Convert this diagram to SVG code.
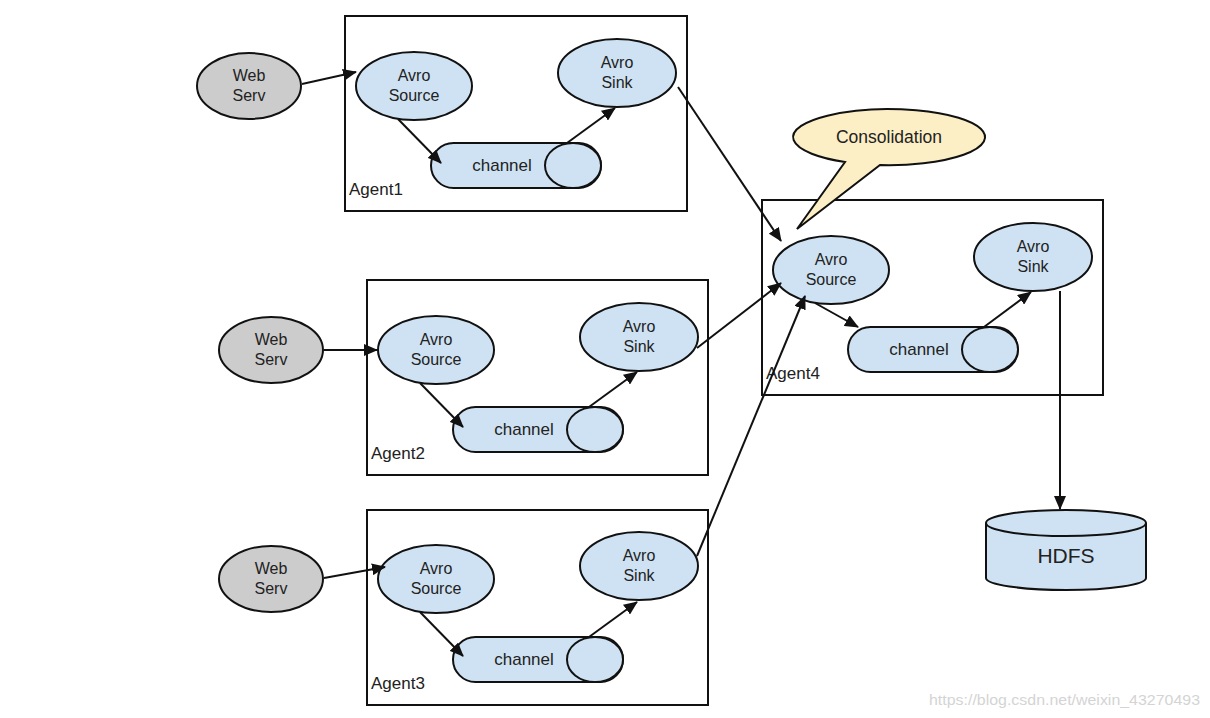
<svg xmlns="http://www.w3.org/2000/svg" width="1210" height="718" viewBox="0 0 1210 718">
<defs>
<style>
.box{fill:none;stroke:#111;stroke-width:2}
.web{fill:#cccccc;stroke:#111;stroke-width:2}
.blue{fill:#cfe2f3;stroke:#111;stroke-width:2}
.bub{fill:#fdefc5;stroke:#111;stroke-width:2}
.t{font-family:"Liberation Sans",Arial,sans-serif;font-size:16px;fill:#222;text-anchor:middle}
.ch{font-family:"Liberation Sans",Arial,sans-serif;font-size:17px;fill:#222;text-anchor:middle}
.lbl{font-family:"Liberation Sans",Arial,sans-serif;font-size:17px;fill:#222}
.big{font-family:"Liberation Sans",Arial,sans-serif;font-size:21px;fill:#222;text-anchor:middle}
.wm{font-family:"Liberation Sans",Arial,sans-serif;font-size:15px;fill:#d4d4d4}
.c{fill:none;stroke:#111;stroke-width:2;marker-end:url(#ah)}
</style>
<marker id="ah" markerUnits="userSpaceOnUse" markerWidth="14" markerHeight="12" refX="13" refY="6" orient="auto">
<path d="M0,0 L14,6 L0,12 Z" fill="#111"/>
</marker>
</defs>
<rect width="1210" height="718" fill="#fff"/>

<g id="agent1">
<rect class="box" x="345" y="16" width="342" height="195"/>
<text class="lbl" x="349" y="195">Agent1</text>
</g>
<g id="web1"><ellipse class="web" cx="249" cy="86" rx="52" ry="33"/><text class="t" x="249" y="81">Web</text><text class="t" x="249" y="101">Serv</text></g>
<g id="source1"><ellipse class="blue" cx="414" cy="86" rx="58" ry="34"/><text class="t" x="414" y="81">Avro</text><text class="t" x="414" y="101">Source</text></g>
<g id="sink1"><ellipse class="blue" cx="617" cy="73" rx="59" ry="34"/><text class="t" x="617" y="68">Avro</text><text class="t" x="617" y="88">Sink</text></g>
<g id="channel1"><rect class="blue" x="431" y="143" width="170" height="45" rx="22.5"/><ellipse class="blue" cx="573" cy="165.5" rx="28" ry="22.5"/><text class="ch" x="502" y="171">channel</text></g>

<g id="agent2">
<rect class="box" x="367" y="280" width="341" height="195"/>
<text class="lbl" x="371" y="459">Agent2</text>
</g>
<g id="web2"><ellipse class="web" cx="271" cy="350" rx="52" ry="33"/><text class="t" x="271" y="345">Web</text><text class="t" x="271" y="365">Serv</text></g>
<g id="source2"><ellipse class="blue" cx="436" cy="350" rx="58" ry="34"/><text class="t" x="436" y="345">Avro</text><text class="t" x="436" y="365">Source</text></g>
<g id="sink2"><ellipse class="blue" cx="639" cy="337" rx="59" ry="34"/><text class="t" x="639" y="332">Avro</text><text class="t" x="639" y="352">Sink</text></g>
<g id="channel2"><rect class="blue" x="453" y="407" width="170" height="45" rx="22.5"/><ellipse class="blue" cx="595" cy="429.5" rx="28" ry="22.5"/><text class="ch" x="524" y="435">channel</text></g>

<g id="agent3">
<rect class="box" x="367" y="510" width="341" height="195"/>
<text class="lbl" x="371" y="689">Agent3</text>
</g>
<g id="web3"><ellipse class="web" cx="271" cy="579" rx="52" ry="33"/><text class="t" x="271" y="574">Web</text><text class="t" x="271" y="594">Serv</text></g>
<g id="source3"><ellipse class="blue" cx="436" cy="579" rx="58" ry="34"/><text class="t" x="436" y="574">Avro</text><text class="t" x="436" y="594">Source</text></g>
<g id="sink3"><ellipse class="blue" cx="639" cy="566" rx="59" ry="34"/><text class="t" x="639" y="561">Avro</text><text class="t" x="639" y="581">Sink</text></g>
<g id="channel3"><rect class="blue" x="453" y="637" width="170" height="45" rx="22.5"/><ellipse class="blue" cx="595" cy="659.5" rx="28" ry="22.5"/><text class="ch" x="524" y="665">channel</text></g>

<g id="agent4">
<rect class="box" x="762" y="200" width="341" height="195"/>
<text class="lbl" x="766" y="379">Agent4</text>
</g>
<g id="source4"><ellipse class="blue" cx="831" cy="270" rx="58" ry="34"/><text class="t" x="831" y="265">Avro</text><text class="t" x="831" y="285">Source</text></g>
<g id="sink4"><ellipse class="blue" cx="1033" cy="257" rx="59" ry="34"/><text class="t" x="1033" y="252">Avro</text><text class="t" x="1033" y="272">Sink</text></g>
<g id="channel4"><rect class="blue" x="848" y="327" width="170" height="45" rx="22.5"/><ellipse class="blue" cx="990" cy="349.5" rx="28" ry="22.5"/><text class="ch" x="919" y="355">channel</text></g>

<g id="consolidation">
<path class="bub" d="M845,162 A96,28 0 1 1 880,165 L797,229 Z"/>
<text class="t" x="889" y="143" style="font-size:17.5px">Consolidation</text>
</g>

<g id="hdfs">
<path class="blue" d="M986,523 L986,578 A80,12 0 0 0 1146,578 L1146,523"/>
<ellipse class="blue" cx="1066" cy="523" rx="80" ry="13"/>
<text class="big" x="1066" y="563">HDFS</text>
</g>

<g id="connectors">
<line class="c" x1="302" y1="84" x2="356" y2="72"/>
<line class="c" x1="398" y1="119" x2="441" y2="163"/>
<line class="c" x1="567" y1="143" x2="615" y2="108"/>
<line class="c" x1="324" y1="350" x2="377" y2="350"/>
<line class="c" x1="420" y1="383" x2="463" y2="427"/>
<line class="c" x1="589" y1="407" x2="637" y2="372"/>
<line class="c" x1="324" y1="578" x2="385" y2="567"/>
<line class="c" x1="420" y1="612" x2="463" y2="656"/>
<line class="c" x1="589" y1="637" x2="637" y2="602"/>
<line class="c" x1="815" y1="303" x2="858" y2="327"/>
<line class="c" x1="984" y1="327" x2="1031" y2="292"/>
<line class="c" x1="678" y1="87" x2="781" y2="241"/>
<line class="c" x1="697" y1="348" x2="781" y2="283"/>
<line class="c" x1="697" y1="556" x2="805" y2="296"/>
<line class="c" x1="1060" y1="291" x2="1060" y2="509"/>
</g>

<text class="wm" x="929" y="705" textLength="271" lengthAdjust="spacingAndGlyphs">https://blog.csdn.net/weixin_43270493</text>
</svg>
